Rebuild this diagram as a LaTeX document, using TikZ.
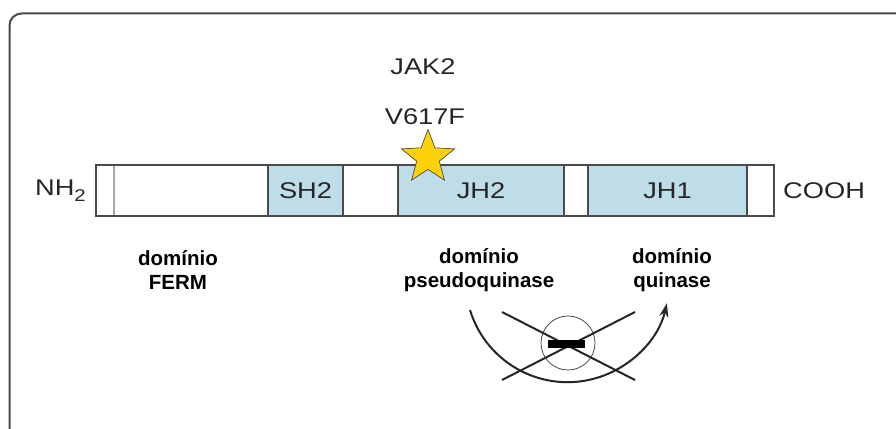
\documentclass[tikz,border=0pt]{standalone}
\usepackage{fontspec}
\setmainfont{Liberation Sans}
\newfontfamily\widesans[FakeStretch=1.2]{Liberation Sans}
\usetikzlibrary{positioning,shapes.geometric,arrows.meta}

\definecolor{domblue}{HTML}{BEDDE9}
\definecolor{linegray}{HTML}{4A4A4A}
\definecolor{textgray}{HTML}{262626}
\definecolor{staryellow}{HTML}{FDD20A}

\tikzset{
    seg/.style={draw=linegray, line width=1.3pt, minimum height=51pt, inner sep=0pt, outer sep=0pt,
        text=textgray, font=\widesans\fontsize{22.7}{26}\selectfont},
    lbl/.style={inner sep=0pt, text=textgray, font=\widesans\fontsize{22.7}{26}\selectfont},
    dom/.style={inner sep=0pt, align=center, font=\bfseries\fontsize{20.5}{24.5}\selectfont},
    thick line/.style={line width=2pt, black!85},
}

\begin{document}
\begin{tikzpicture}[x=1pt, y=-1pt]
    \useasboundingbox (0,0) rectangle (896,428);
    \draw[linegray, line width=2pt, rounded corners=12pt] (9.5,432) -- (9.5,13.5) -- (900,13.5);
%
    \coordinate (start) at (96,190.5);
    \foreach \name/\w/\col/\txt [remember=\name as \prev (initially start)] in
        {nt/18/white/, ferm/154/white/, sh2/75/domblue/SH2, lnk/55/white/,
         jh2/166/domblue/JH2, lnkb/24/white/, jh1/159/domblue/JH1, ct/27/white/}
    {
        \node[seg, fill=\col, minimum width=\w pt, right=0pt of \prev] (\name) {\txt};
    }
    \draw[black!35, line width=2pt] ([yshift=-1pt]ferm.north west) -- ([yshift=1pt]ferm.south west);
%
    \node[lbl, left=10pt of nt] (nterm) {NH\raisebox{-0.5ex}{\fontsize{17}{17}\selectfont 2}};
    \node[lbl, right=9pt of ct] (cterm) {COOH};
%
    \node[star, star points=5, star point ratio=2.35, minimum size=56pt, inner sep=0pt,
        draw=linegray, line width=0.7pt, fill=staryellow] (mut) at ([xshift=30pt, yshift=7.5pt]jh2.north west) {};
    \node[lbl] (mutname) at (425,117) {V617F};
    \node[lbl] (gene) at (423,67) {JAK2};
%
    \node[dom] (fermlbl) at (178,270) {domínio\\FERM};
    \node[dom] (pseudolbl) at (479,270) {domínio\\pseudoquinase};
    \node[dom] (kinlbl) at (672,270) {domínio\\quinase};
%
    \node[circle, draw=linegray, line width=0.8pt, minimum size=54pt, inner sep=0pt] (block) at (568,343) {};
    \coordinate (xa) at (502,312);
    \coordinate (xb) at (635,380);
    \coordinate (xc) at (502,380);
    \coordinate (xd) at (635,312);
    \draw[thick line] (xa) -- (xb);
    \draw[thick line] (xc) -- (xd);
    \node[fill=black, minimum width=37pt, minimum height=8pt, inner sep=0pt] (bar) at (566.5,344) {};
    \coordinate (arcstart) at (470,310);
    \draw[thick line, -{Stealth[length=14pt, width=9pt]}] (arcstart) arc[start angle=197, end angle=347, radius=102pt];
\end{tikzpicture}
\end{document}
